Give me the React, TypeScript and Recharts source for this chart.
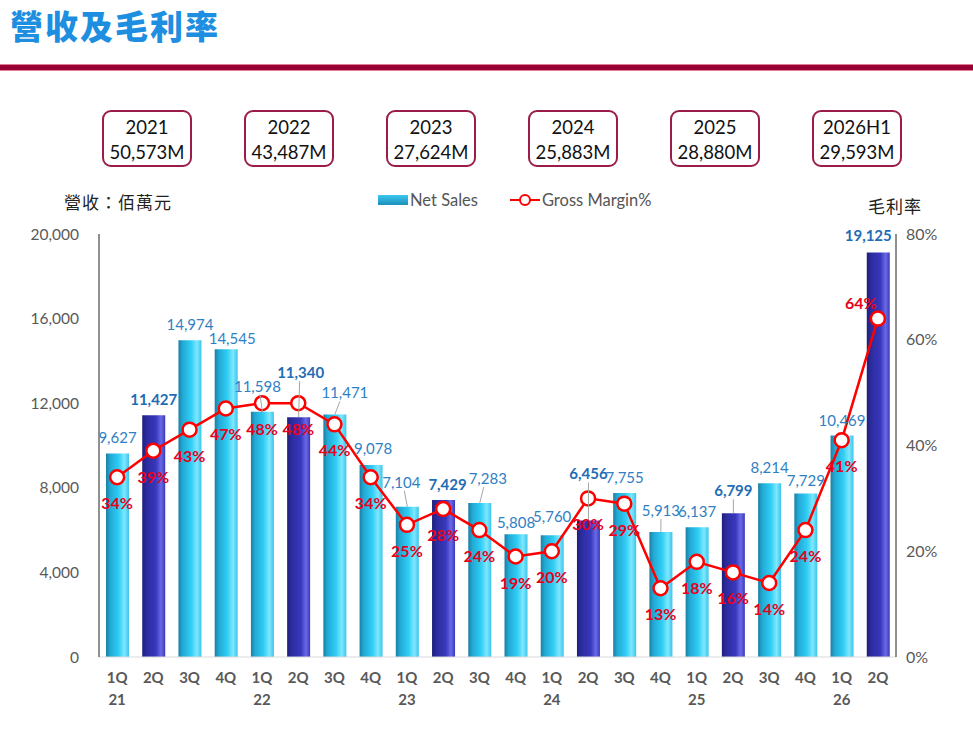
import React from 'react'
import {
  ComposedChart,
  Bar,
  Line,
  XAxis,
  YAxis,
  Cell,
  LabelList,
} from 'recharts'

// quarters shown on the x axis (second line carries the year on 1Q only)
const quarters = ['1Q', '2Q', '3Q', '4Q', '1Q', '2Q', '3Q', '4Q', '1Q', '2Q', '3Q', '4Q', '1Q', '2Q', '3Q', '4Q', '1Q', '2Q', '3Q', '4Q', '1Q', '2Q']
const yearTags = ['21', '', '', '', '22', '', '', '', '23', '', '', '', '24', '', '', '', '25', '', '', '', '26', '']
const netSales = [9627, 11427, 14974, 14545, 11598, 11340, 11471, 9078, 7104, 7429, 7283, 5808, 5760, 6456, 7755, 5913, 6137, 6799, 8214, 7729, 10469, 19125]
const grossMargin = [34, 39, 43, 47, 48, 48, 44, 34, 25, 28, 24, 19, 20, 30, 29, 13, 18, 16, 14, 24, 41, 64]

const yearLabels = ['2021', '2022', '2023', '2024', '2025', '2026H1']
const yearTotals = ['50,573M', '43,487M', '27,624M', '25,883M', '28,880M', '29,593M']

const salesTicks = [0, 4000, 8000, 12000, 16000, 20000]
const marginTicks = [0, 20, 40, 60, 80]

const data = quarters.map((q, i) => ({
  key: `${q}-${i}`,
  q,
  yr: yearTags[i],
  sales: netSales[i],
  margin: grossMargin[i],
  dark: q === '2Q',
}))

const font = 'Lato, "Liberation Sans", sans-serif'
const cjk = '"Noto Sans CJK TC", "Noto Sans CJK SC", sans-serif'

// label placement tweaks for the sales values: [dx, lift above bar top]
const salesLabelShift: Record<number, [number, number]> = {
  3: [6, 10],
  4: [-5, 25],
  5: [2, 44],
  6: [10, 21],
  7: [2, 16],
  8: [-6, 24],
  9: [4, 15],
  10: [8, 24],
  11: [0, 11],
  12: [0, 18],
  13: [0, 46],
  15: [0, 21],
  17: [0, 22],
  19: [0, 13],
  21: [-10, 17],
}

function QuarterTick(props: any) {
  const { x, y, index } = props
  const row = data[index]
  if (!row) return null
  return (
    <g>
      <text x={x} y={y + 18} textAnchor="middle" fill="#595959" fontSize={15} fontWeight={700} fontFamily={font}>
        {row.q}
      </text>
      {row.yr ? (
        <text x={x} y={y + 40} textAnchor="middle" fill="#595959" fontSize={15} fontWeight={700} fontFamily={font}>
          {row.yr}
        </text>
      ) : null}
    </g>
  )
}

function SalesLabel(props: any) {
  const { x, y, width, value, index } = props
  const dark = data[index]?.dark
  const [dx, lift] = salesLabelShift[index] ?? [0, 15]
  const cx = x + width / 2
  const cy = y - lift
  return (
    <g>
      {lift > 18 ? (
        <line x1={cx + dx * 0.5} y1={cy + 8} x2={cx} y2={y} stroke="#A6A6A6" strokeWidth={1} />
      ) : null}
      <text
        x={cx + dx}
        y={cy + 5}
        textAnchor="middle"
        fill={dark ? '#1F6DB5' : '#2F80C4'}
        fontSize={15}
        fontWeight={dark ? 700 : 400}
        fontFamily={font}
      >
        {value.toLocaleString('en-US')}
      </text>
    </g>
  )
}

function MarginLabel(props: any) {
  const { x, y, value, index } = props
  const last = index === data.length - 1
  return (
    <text
      x={last ? x - 17 : x}
      y={last ? y - 10 : y + 32}
      textAnchor="middle"
      fill="#E8001C"
      fontSize={16}
      fontWeight={700}
      fontFamily={font}
    >
      {value}%
    </text>
  )
}

export default function App() {
  return (
    <div style={{ position: 'absolute', left: 0, top: 0, width: 973, height: 735, background: '#fff', overflow: 'hidden' }}>
      <div
        style={{
          position: 'absolute',
          left: 10,
          top: 1,
          fontFamily: cjk,
          fontWeight: 900,
          fontSize: 33,
          color: '#1E8FE0',
          letterSpacing: 2,
        }}
      >
        營收及毛利率
      </div>
      <div style={{ position: 'absolute', left: 0, top: 64, width: 973, height: 5, background: '#990033', borderTop: '1px solid #E27C99', borderBottom: '1px solid #E27C99' }} />

      {yearLabels.map((yl, i) => (
        <div
          key={yl}
          style={{
            position: 'absolute',
            left: 102 + i * 142,
            top: 110,
            width: 90,
            height: 57,
            border: '2px solid #9B1C4A',
            borderRadius: 9,
            fontFamily: font,
            fontSize: 18.5,
            color: '#111',
            textAlign: 'center',
            lineHeight: '25px',
            paddingTop: 3,
            boxSizing: 'border-box',
          }}
        >
          <div>{yl}</div>
          <div>{yearTotals[i]}</div>
        </div>
      ))}

      <div style={{ position: 'absolute', left: 64, top: 189, fontFamily: cjk, fontSize: 17, letterSpacing: 1, color: '#222' }}>營收：佰萬元</div>
      <div style={{ position: 'absolute', left: 868, top: 193, fontFamily: cjk, fontSize: 17, letterSpacing: 1, color: '#222' }}>毛利率</div>

      <div style={{ position: 'absolute', left: 378, top: 190, display: 'flex', alignItems: 'center', fontFamily: font, fontSize: 16.5, color: '#555' }}>
        <div style={{ width: 30, height: 10, background: 'linear-gradient(180deg, #3BC8F0 0%, #1D8FB8 100%)', marginRight: 2 }} />
        <span>Net Sales</span>
        <svg width={34} height={14} style={{ marginLeft: 30 }}>
          <line x1={2} y1={7} x2={32} y2={7} stroke="#FF0000" strokeWidth={2} />
          <circle cx={17} cy={7} r={5} fill="#fff" stroke="#FF0000" strokeWidth={2} />
        </svg>
        <span>Gross Margin%</span>
      </div>

      <ComposedChart
        width={973}
        height={735}
        data={data}
        margin={{ top: 234, right: 17, bottom: 28, left: 39 }}
        style={{ position: 'absolute', left: 0, top: 0 }}
      >
        <defs>
          <linearGradient id="cyanBar" x1="0" y1="0" x2="1" y2="0">
            <stop offset="0%" stopColor="#1B7FA3" />
            <stop offset="18%" stopColor="#22A9D4" />
            <stop offset="55%" stopColor="#2FCDF5" />
            <stop offset="80%" stopColor="#7EE8FF" />
            <stop offset="100%" stopColor="#3CC4EA" />
          </linearGradient>
          <linearGradient id="blueBar" x1="0" y1="0" x2="1" y2="0">
            <stop offset="0%" stopColor="#1F1F7A" />
            <stop offset="20%" stopColor="#2C2CA0" />
            <stop offset="60%" stopColor="#3838BC" />
            <stop offset="82%" stopColor="#6A6AE8" />
            <stop offset="100%" stopColor="#3A3AB8" />
          </linearGradient>
        </defs>
        <XAxis
          dataKey="key"
          interval={0}
          axisLine={{ stroke: '#D9D9D9' }}
          tickLine={false}
          height={50}
          tick={(p: any) => <QuarterTick {...p} />}
        />
        <YAxis
          yAxisId="left"
          domain={[0, 20000]}
          ticks={salesTicks}
          width={60}
          axisLine={{ stroke: '#222' }}
          tickLine={false}
          tickMargin={14}
          tickFormatter={(v: number) => v.toLocaleString('en-US')}
          tick={{ fill: '#595959', fontSize: 15.5, fontFamily: font }}
        />
        <YAxis
          yAxisId="right"
          orientation="right"
          domain={[0, 80]}
          ticks={marginTicks}
          width={60}
          axisLine={{ stroke: '#222' }}
          tickLine={false}
          tickMargin={4}
          tickFormatter={(v: number) => `${v}%`}
          tick={{ fill: '#595959', fontSize: 16, fontFamily: font }}
        />
        <Bar yAxisId="left" dataKey="sales" barSize={23} isAnimationActive={false}>
          {data.map((d) => (
            <Cell key={d.key} fill={d.dark ? 'url(#blueBar)' : 'url(#cyanBar)'} />
          ))}
          <LabelList dataKey="sales" content={<SalesLabel />} />
        </Bar>
        <Line
          yAxisId="right"
          dataKey="margin"
          stroke="#FF0000"
          strokeWidth={2.5}
          dot={{ r: 7, fill: '#fff', stroke: '#FF0000', strokeWidth: 2.5 }}
          isAnimationActive={false}
        >
          <LabelList dataKey="margin" content={<MarginLabel />} />
        </Line>
      </ComposedChart>
    </div>
  )
}
